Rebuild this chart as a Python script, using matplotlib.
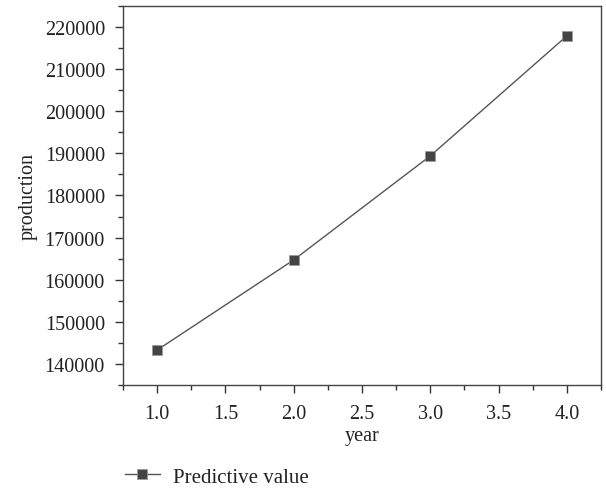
import matplotlib
matplotlib.use('Agg')
import matplotlib.pyplot as plt
from matplotlib.ticker import MultipleLocator

years = [1.0, 2.0, 3.0, 4.0]
production = [143300, 164700, 189400, 217900]
series_label = 'Predictive value'

plt.rcParams['font.family'] = ['Liberation Serif', 'DejaVu Serif']

fig = plt.figure(figsize=(6.06, 4.89), dpi=100)
ax = fig.add_axes([123 / 606, 1 - 386 / 489, (601 - 123) / 606, (386 - 7) / 489])

line, = ax.plot(years, production, color='#555555', linewidth=1.0,
                marker='s', markersize=7, markerfacecolor='#444444',
                markeredgecolor='#999999', markeredgewidth=0.5)

ax.set_xlim(0.75, 4.25)
ax.set_ylim(135000, 225000)
ax.xaxis.set_major_locator(MultipleLocator(0.5))
ax.xaxis.set_minor_locator(MultipleLocator(0.25))
ax.yaxis.set_major_locator(MultipleLocator(10000))
ax.yaxis.set_minor_locator(MultipleLocator(5000))
ax.tick_params(which='major', direction='out', length=6, width=1, labelsize=14.5,
               colors='#333333', labelcolor='#222222')
ax.tick_params(axis='y', which='major', pad=7)
ax.tick_params(axis='x', which='major', pad=8)
ax.tick_params(which='minor', direction='out', length=3.5, width=1, colors='#333333')
for s in ax.spines.values():
    s.set_color('#444444')
    s.set_linewidth(1.0)

ax.set_xlabel('year', fontsize=14.5, color='#222222', labelpad=2)
ax.set_ylabel('production', fontsize=14.5, color='#222222', labelpad=5)

fig.legend([line], [series_label], loc='center left', bbox_to_anchor=(106 / 606, 1 - 478 / 489),
           frameon=False, fontsize=15, handlelength=1.7, handletextpad=0.6,
           labelcolor='#222222')

fig.savefig('out.png', dpi=100)
